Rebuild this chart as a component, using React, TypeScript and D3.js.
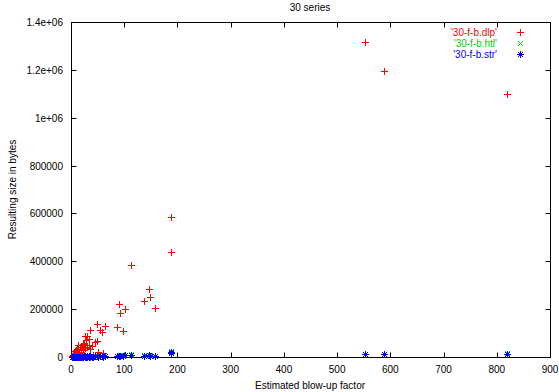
import React from 'react';
import * as d3 from 'd3';

// blow-up factor per file, and the resulting size for each output format
const blowup = [552, 588, 820, 188, 187, 113, 146, 148, 138, 158, 90, 92, 101, 86, 97, 49, 63, 55, 58, 36,
  49, 45, 31, 26, 28, 20, 16, 12, 23, 7, 10, 36, 4, 14, 22, 30, 18, 25, 33, 40,
  3, 8, 50, 60, 42, 2, 5, 11, 15, 19, 27, 34, 1, 6, 9];
const dlpSize = [1315000, 1195000, 1100000, 585000, 440000, 383000, 283000, 252000, 235000, 204000,
  221000, 184000, 200000, 125000, 110000, 138000, 131000, 113000, 104000, 114000,
  68000, 64000, 89000, 88000, 70000, 43000, 43000, 32000, 29000, 25000, 20000, 32000, 8000, 50000, 55000,
  40000, 22000, 60000, 75000, 45000, 5000, 12000, 20000, 15000, 10000, 3000, 9000, 15000, 18000, 35000,
  38000, 52000, 2000, 14000, 28000];
const htlSize = [14000, 13000, 15000, 24000, 20000, 11000, 9000, 8000, 7000, 6000,
  8000, 7000, 9000, 6000, 5000, 7000, 6000, 5000, 5000, 6000,
  4000, 4000, 5000, 4000, 4000, 3000, 3000, 2000, 2000, 2000, 1000, 3000, 1000, 3000, 3000,
  3000, 2000, 4000, 4000, 3000, 1000, 1000, 2000, 2000, 1000, 500, 800, 1200, 1500, 2500,
  2500, 3000, 400, 1000, 1800];
const strSize = [12000, 11000, 12000, 20000, 16000, 9000, 7000, 6000, 5000, 5000,
  6000, 5000, 7000, 4000, 4000, 5000, 5000, 4000, 3000, 4000,
  3000, 3000, 3000, 3000, 2000, 2000, 2000, 1000, 1000, 1000, 1000, 2000, 500, 2000, 2000,
  2000, 1000, 3000, 3000, 2000, 500, 1000, 1000, 1000, 1000, 300, 500, 800, 900, 1500,
  1500, 2000, 200, 600, 1000];

const xTicks = [0, 100, 200, 300, 400, 500, 600, 700, 800, 900];
const yTicks = [0, 200000, 400000, 600000, 800000, 1000000, 1200000, 1400000];
const yTickLabels = ['0', '200000', '400000', '600000', '800000', '1e+06', '1.2e+06', '1.4e+06'];

const seriesNames = ["'30-f-b.dlp'", "'30-f-b.htl'", "'30-f-b.str'"];
const seriesColors = ['#ff0000', '#00d000', '#0000ff'];

const width = 559;
const height = 392;
const margin = { left: 71, right: 9, top: 22, bottom: 35 };
const font = '"Liberation Sans", Arial, sans-serif';

const plusPath = 'M-3.5,0H3.5M0,-3.5V3.5';
const crossPath = 'M-2.5,-2.5L2.5,2.5M-2.5,2.5L2.5,-2.5';
const starPath = plusPath + crossPath;
const markers = [plusPath, crossPath, starPath];

const App = () => {
  const x = d3.scaleLinear().domain([0, 900]).range([margin.left, width - margin.right]);
  const y = d3.scaleLinear().domain([0, 1400000]).range([height - margin.bottom, margin.top]);
  const series = [dlpSize, htlSize, strSize];
  const px = (v: number) => Math.round(v) + 0.5;

  return (
    <div style={{ position: 'absolute', left: 0, top: 0 }}>
      <svg width={width} height={height} style={{ display: 'block', background: '#fff' }} fontFamily={font}>
        <text x={310} y={11} textAnchor="middle" fontSize={10}>30 series</text>

        {yTicks.map((t, i) => (
          <g key={'y' + t}>
            <line x1={px(x(0))} x2={px(x(0)) + 5} y1={px(y(t))} y2={px(y(t))} stroke="#000" />
            <line x1={px(x(900)) - 5} x2={px(x(900))} y1={px(y(t))} y2={px(y(t))} stroke="#000" />
            <text x={63} y={y(t) + 4} textAnchor="end" fontSize={10}>{yTickLabels[i]}</text>
          </g>
        ))}
        {xTicks.map(t => (
          <g key={'x' + t}>
            <line x1={px(x(t))} x2={px(x(t))} y1={px(y(0))} y2={px(y(0)) - 5} stroke="#000" />
            <line x1={px(x(t))} x2={px(x(t))} y1={px(y(1400000))} y2={px(y(1400000)) + 5} stroke="#000" />
            <text x={x(t)} y={373} textAnchor="middle" fontSize={10}>{t}</text>
          </g>
        ))}
        <rect x={px(x(0))} y={px(y(1400000))} width={Math.round(x(900)) - Math.round(x(0))}
          height={Math.round(y(0)) - Math.round(y(1400000))} fill="none" stroke="#000" />

        <text x={310} y={389} textAnchor="middle" fontSize={10}>Estimated blow-up factor</text>
        <text transform={`translate(16,${(margin.top + height - margin.bottom) / 2}) rotate(-90)`}
          textAnchor="middle" fontSize={10}>Resulting size in bytes</text>

        {series.map((vals, s) => (
          <g key={'s' + s} stroke={seriesColors[s]} fill="none" shapeRendering="crispEdges">
            {vals.map((v, i) => (
              <path key={i} d={markers[s]} transform={`translate(${px(x(blowup[i]))},${px(y(v))})`} />
            ))}
          </g>
        ))}

        {seriesNames.map((name, s) => (
          <g key={'k' + s}>
            <text x={497} y={36 + s * 11} textAnchor="end" fontSize={10} fill={seriesColors[s]}>{name}</text>
            <path d={markers[s]} stroke={seriesColors[s]} fill="none" shapeRendering="crispEdges"
              transform={`translate(520.5,${32.5 + s * 11})`} />
          </g>
        ))}
      </svg>
    </div>
  );
};

export default App;
